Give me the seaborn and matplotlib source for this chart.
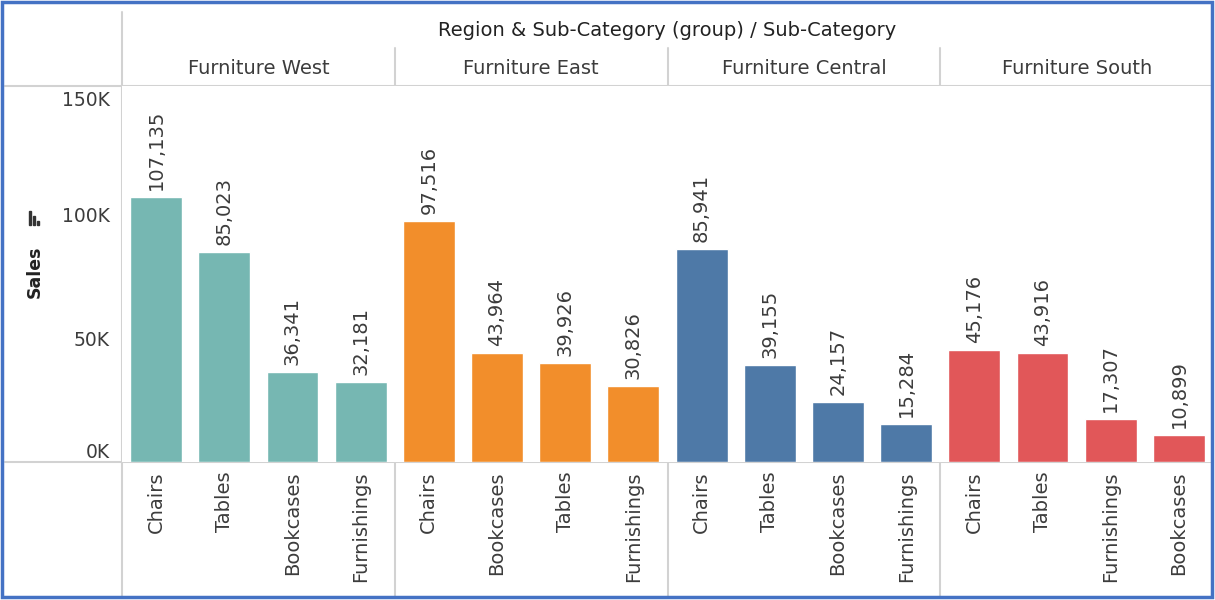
import matplotlib
matplotlib.use("Agg")
import matplotlib.pyplot as plt
import seaborn as sns
from matplotlib.lines import Line2D
from matplotlib.patches import Rectangle

# data
regions = ["Furniture West", "Furniture East", "Furniture Central", "Furniture South"]
west_cats = ["Chairs", "Tables", "Bookcases", "Furnishings"]
west_sales = [107135, 85023, 36341, 32181]
east_cats = ["Chairs", "Bookcases", "Tables", "Furnishings"]
east_sales = [97516, 43964, 39926, 30826]
central_cats = ["Chairs", "Tables", "Bookcases", "Furnishings"]
central_sales = [85941, 39155, 24157, 15284]
south_cats = ["Chairs", "Tables", "Furnishings", "Bookcases"]
south_sales = [45176, 43916, 17307, 10899]
colors = ["#76B7B2", "#F28E2B", "#4E79A7", "#E15759"]
y_ticks = [0, 50000, 100000, 150000]
y_labels = ["0K", "50K", "100K", "150K"]

panels = [(west_cats, west_sales), (east_cats, east_sales),
          (central_cats, central_sales), (south_cats, south_sales)]

sns.set_theme(style="white")
plt.rcParams['font.family'] = ['DejaVu Sans']

W, H = 1215, 600
txt = "#3c3c3c"
grid = "#d2d2d2"
fs = 14

fig = plt.figure(figsize=(W / 100, H / 100), dpi=100)

# pixel layout of the panels
left, right = 122, 1213
top, base = 86, 462
pw = (right - left) / 4

def fx(px):
    return px / W

def fy(py):
    return 1 - py / H

for i, ((cats, vals), col) in enumerate(zip(panels, colors)):
    x0 = left + i * pw
    ax = fig.add_axes([fx(x0), fy(base), pw / W, (base - top) / H])
    sns.barplot(x=cats, y=vals, color=col, saturation=1, width=0.76, ax=ax)
    ax.set_xlim(-0.5, 3.5)
    ax.set_ylim(0, 152000)
    for s in ax.spines.values():
        s.set_visible(False)
    ax.set_xlabel("")
    ax.set_ylabel("")
    ax.set_xticks(range(len(cats)))
    ax.set_xticklabels(cats, rotation=90, color=txt, fontsize=fs, va='top')
    ax.tick_params(axis='x', length=0, pad=7)
    ax.set_yticks(y_ticks)
    if i == 0:
        ax.set_yticklabels(y_labels, color=txt, fontsize=fs - 0.5)
        ax.tick_params(axis='y', length=0, pad=9)
        lbls = ax.get_yticklabels()
        lbls[0].set_va('bottom')
        lbls[-1].set_va('top')
    else:
        ax.tick_params(axis='y', length=0, labelleft=False)
    for j, v in enumerate(vals):
        ax.annotate(f"{v:,}", (j, v), xytext=(0, 5), textcoords='offset points',
                    rotation=90, ha='center', va='bottom', color=txt, fontsize=fs)
    fig.text(fx(x0 + pw / 2), fy(68), regions[i], ha='center', va='center',
             color=txt, fontsize=fs)

fig.text(fx((left + right) / 2), fy(31), "Region & Sub-Category (group) / Sub-Category",
         ha='center', va='center', color="#222222", fontsize=fs)
fig.text(fx(35), fy(272), "Sales", rotation=90, ha='center', va='center',
         color="#222222", fontsize=fs - 1.5, fontweight='bold')

# little sort icon above the axis title
for bx, bh in [(29, 14), (33, 9), (37, 4)]:
    fig.add_artist(Rectangle((fx(bx), fy(225)), 2.2 / W, bh / H, color="#333333",
                             transform=fig.transFigure))

# table-style rules
lines = [((left, left), (12, 597)),
         ((5, right), (top, top)),
         ((5, right), (base, base))]
for k in range(1, 4):
    xs = left + k * pw
    lines.append(((xs, xs), (48, 597)))
for (xa, xb), (ya, yb) in lines:
    fig.add_artist(Line2D([fx(xa), fx(xb)], [fy(ya), fy(yb)], color=grid, lw=1.5,
                          transform=fig.transFigure, zorder=0))

# blue frame round the picture
fig.add_artist(Rectangle((fx(2), fy(597)), (W - 5) / W, (595) / H, fill=False,
                         edgecolor="#4472C4", lw=2.5, transform=fig.transFigure))

fig.savefig("out.png", dpi=100)
